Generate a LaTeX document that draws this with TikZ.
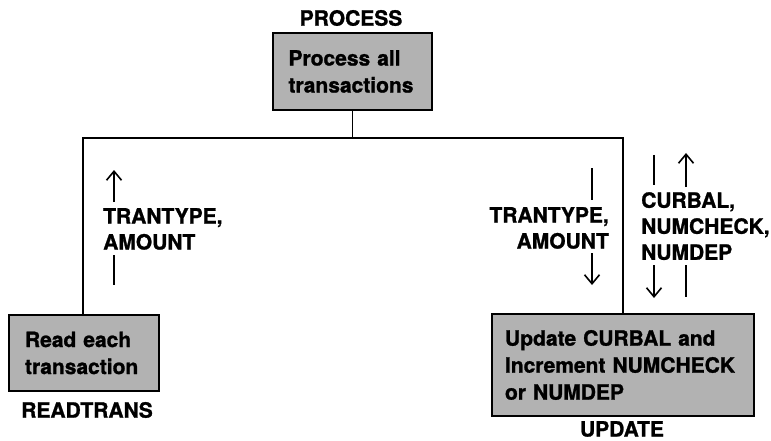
\documentclass[tikz,border=0pt]{standalone}
\usepackage{fontspec}
\setmainfont{TeX Gyre Heros}[BoldFeatures={FakeBold=1.2}]
\usetikzlibrary{arrows.meta,calc}

\begin{document}
\begin{tikzpicture}[x=1pt,y=-1pt,
  module/.style={draw, line width=1.7pt, fill=gray!60, inner ysep=0pt,
    align=left, font=\fontsize{21}{27}\selectfont\bfseries},
  modname/.style={font=\fontsize{21}{24}\selectfont\bfseries},
  data/.style={inner sep=0pt, font=\fontsize{21}{26}\selectfont\bfseries},
  link/.style={line width=1.4pt},
  flow/.style={line width=1.6pt, -{Straight Barb[length=9pt,width=15pt]}},
  stub/.style={line width=1.6pt}]

\useasboundingbox (0,0) rectangle (771,441);

% ----- Modules -----
\node[module, minimum width=159pt, minimum height=77pt, text width=128pt,
  inner xsep=15.5pt] (process) at (352.5,71.5) {Process all\\transactions};
\node[module, minimum width=150pt, minimum height=76pt, text width=118pt,
  inner xsep=16pt] (readtrans) at (84,353) {Read each\\transaction};
\node[module, minimum width=262pt, minimum height=102pt, text width=236pt,
  inner xsep=13pt] (update) at (623,365) {Update CURBAL and\\Increment NUMCHECK\\or NUMDEP};

% ----- Module names -----
\node[modname] (processname) at (351,18) {PROCESS};
\node[modname] (readname) at (87,410) {READTRANS};
\node[modname] (updatename) at (622,429) {UPDATE};

% ----- Tree -----
\coordinate (busL) at (83,138);
\coordinate (busR) at (623,138);
\draw[link] (process.south) -- (process.south |- busL);
\draw[link] (readtrans.north -| busL) -- (busL) -- (busR) -- (update.north -| busR);

% ----- Data passed -----
\node[data, anchor=north west, align=left] (readdata) at (103,208) {TRANTYPE,\\AMOUNT};
\node[data, anchor=north east, align=right] (passdata) at (609,207) {TRANTYPE,\\AMOUNT};
\node[data, anchor=north west, align=left] (updatedata) at (641,192) {CURBAL,\\NUMCHECK,\\NUMDEP};

% up to PROCESS from READTRANS
\draw[flow] (114,202) -- (114,170);
\draw[stub] (114,255) -- (114,285);

% down to UPDATE
\draw[stub] (592,168) -- (592,200);
\draw[flow] (592,253) -- (592,285);

% both ways
\draw[stub] (654,155) -- (654,185);
\draw[flow] (654,265) -- (654,298);
\draw[flow] (686,187) -- (686,153);
\draw[stub] (686,265) -- (686,297);

\end{tikzpicture}
\end{document}
